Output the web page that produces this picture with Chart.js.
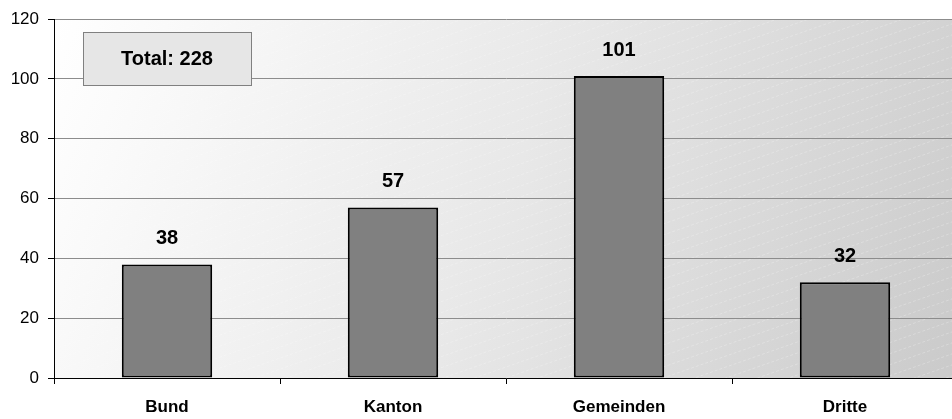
<!DOCTYPE html>
<html>
<head>
<meta charset="utf-8">
<script src="https://cdn.jsdelivr.net/npm/chart.js@4"></script>
<style>
    html, body { margin: 0; padding: 0; background: #fff; overflow: hidden; }
    #wrap { width: 952px; height: 419px; overflow: hidden; }
</style>
</head>
<body>
<div id="wrap"><canvas id="chart" width="958" height="419"></canvas></div>
<script>
// Data
const categories = ['Bund', 'Kanton', 'Gemeinden', 'Dritte'];
const values = [38, 57, 101, 32];
const totalLabel = 'Total: 228';
const yTicks = [0, 20, 40, 60, 80, 100, 120];

const FONT = 'Arial, "Liberation Sans", sans-serif';

// Plot background: diagonal grey gradient with faint hatch
const backgroundPlugin = {
    id: 'plotBackground',
    beforeDraw(chart) {
        const { ctx, chartArea: a } = chart;
        ctx.save();
        const g = ctx.createLinearGradient(a.left, a.top, a.right, a.bottom);
        g.addColorStop(0, '#ffffff');
        g.addColorStop(0.5, '#e8e8e8');
        g.addColorStop(1, '#cacaca');
        ctx.fillStyle = g;
        ctx.fillRect(a.left, a.top, a.right - a.left, a.bottom - a.top);

        ctx.beginPath();
        ctx.rect(a.left, a.top, a.right - a.left, a.bottom - a.top);
        ctx.clip();
        ctx.strokeStyle = 'rgba(255,255,255,0.25)';
        ctx.lineWidth = 1;
        ctx.setLineDash([3, 2]);
        for (let y0 = a.top; y0 < a.bottom + 400; y0 += 11) {
            ctx.beginPath();
            ctx.moveTo(a.left, y0);
            ctx.lineTo(a.right, y0 - (a.right - a.left) * 0.35);
            ctx.stroke();
        }
        ctx.restore();
    }
};

// Value labels above bars and the total box
const labelsPlugin = {
    id: 'valueLabels',
    afterDatasetsDraw(chart) {
        const { ctx } = chart;
        const meta = chart.getDatasetMeta(0);
        ctx.save();
        ctx.fillStyle = '#000';
        ctx.font = 'bold 20px ' + FONT;
        ctx.textAlign = 'center';
        ctx.textBaseline = 'middle';
        meta.data.forEach((bar, i) => {
            ctx.fillText(String(values[i]), bar.x, bar.y - 26);
        });

        // Total box
        const bx = 83, by = 32, bw = 168, bh = 53;
        ctx.fillStyle = '#e6e6e6';
        ctx.fillRect(bx, by, bw, bh);
        ctx.strokeStyle = '#808080';
        ctx.lineWidth = 1;
        ctx.strokeRect(bx + 0.5, by + 0.5, bw, bh);
        ctx.fillStyle = '#000';
        ctx.font = 'bold 20px ' + FONT;
        ctx.fillText(totalLabel, bx + bw / 2, by + bh / 2 + 1);
        ctx.restore();
    }
};

new Chart(document.getElementById('chart'), {
    type: 'bar',
    data: {
        labels: categories,
        datasets: [{
            data: values,
            backgroundColor: '#808080',
            borderColor: '#000000',
            borderWidth: 2,
            borderSkipped: false,
            categoryPercentage: 0.8,
            barPercentage: 0.5
        }]
    },
    options: {
        responsive: false,
        animation: false,
        layout: { padding: { top: 19, right: 0, left: 0, bottom: 0 } },
        plugins: {
            legend: { display: false },
            tooltip: { enabled: false }
        },
        scales: {
            x: {
                afterFit(scale) { scale.height = 41; },
                grid: {
                    offset: true,
                    drawOnChartArea: false,
                    color: '#000',
                    tickLength: 6
                },
                border: { color: '#000', width: 1 },
                ticks: {
                    color: '#000',
                    padding: 13,
                    font: { family: FONT, size: 17, weight: 'bold' }
                }
            },
            y: {
                min: 0,
                max: 120,
                afterFit(scale) { scale.width = 54; },
                afterBuildTicks(scale) {
                    scale.ticks = yTicks.map(v => ({ value: v }));
                },
                grid: {
                    color: '#8c8c8c',
                    tickColor: '#000',
                    tickLength: 6
                },
                border: { color: '#000', width: 1 },
                ticks: {
                    color: '#000',
                    padding: 9,
                    font: { family: FONT, size: 17 }
                }
            }
        }
    },
    plugins: [backgroundPlugin, labelsPlugin]
});
</script>
</body>
</html>
